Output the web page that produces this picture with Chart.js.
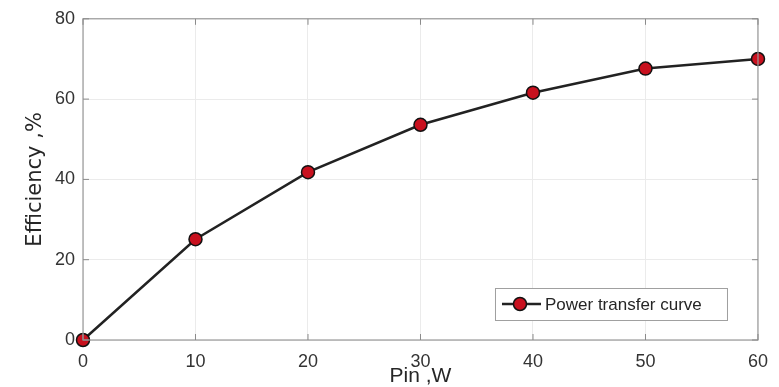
<!DOCTYPE html>
<html>
<head>
<meta charset="utf-8">
<script src="https://cdn.jsdelivr.net/npm/chart.js@4"></script>
<style>
html,body{margin:0;padding:0;background:#fff;}
#wrap{width:779px;height:387px;position:relative;}
</style>
</head>
<body>
<div id="wrap"><canvas id="c" width="779" height="387"></canvas></div>
<script>
const pinW = [0, 10, 20, 30, 40, 50, 60];
const efficiency = [0, 25.1, 41.8, 53.6, 61.6, 67.6, 70.0];
const seriesName = "Power transfer curve";
const xTitle = "Pin ,W";
const yTitle = "Efficiency ,%";

const boxPlugin = {
  id: 'boxPlugin',
  afterDraw(chart) {
    const {ctx, chartArea: a, scales} = chart;
    ctx.save();
    ctx.strokeStyle = '#9a9a9a';
    ctx.lineWidth = 1.2;
    ctx.strokeRect(a.left, a.top, a.right - a.left, a.bottom - a.top);
    // inward ticks
    ctx.strokeStyle = '#8a8a8a';
    ctx.lineWidth = 1;
    const tl = 6;
    scales.x.ticks.forEach(t => {
      const x = scales.x.getPixelForValue(t.value);
      ctx.beginPath();
      ctx.moveTo(x, a.bottom); ctx.lineTo(x, a.bottom - tl);
      ctx.moveTo(x, a.top); ctx.lineTo(x, a.top + tl);
      ctx.stroke();
    });
    scales.y.ticks.forEach(t => {
      const y = scales.y.getPixelForValue(t.value);
      ctx.beginPath();
      ctx.moveTo(a.left, y); ctx.lineTo(a.left + tl, y);
      ctx.moveTo(a.right, y); ctx.lineTo(a.right - tl, y);
      ctx.stroke();
    });
    // legend
    const bx = a.right - 263, by = a.bottom - 52, bw = 232, bh = 32;
    ctx.fillStyle = '#fff';
    ctx.fillRect(bx, by, bw, bh);
    ctx.strokeStyle = '#a0a0a0';
    ctx.lineWidth = 1;
    ctx.strokeRect(bx + 0.5, by + 0.5, bw, bh);
    const cy = by + bh / 2;
    ctx.strokeStyle = '#222';
    ctx.lineWidth = 2.5;
    ctx.beginPath();
    ctx.moveTo(bx + 7, cy); ctx.lineTo(bx + 46, cy);
    ctx.stroke();
    ctx.beginPath();
    ctx.arc(bx + 25, cy, 6.5, 0, Math.PI * 2);
    ctx.fillStyle = '#c8101e';
    ctx.fill();
    ctx.lineWidth = 1.5;
    ctx.strokeStyle = '#111';
    ctx.stroke();
    ctx.fillStyle = '#262626';
    ctx.font = '17px "Liberation Sans", Arial, sans-serif';
    ctx.textBaseline = 'middle';
    ctx.textAlign = 'left';
    ctx.fillText(seriesName, bx + 50, cy + 1);
    ctx.restore();
  }
};

new Chart(document.getElementById('c'), {
  type: 'line',
  data: {
    labels: pinW,
    datasets: [{
      label: seriesName,
      data: pinW.map((x, i) => ({x: x, y: efficiency[i]})),
      borderColor: '#222',
      borderWidth: 2.5,
      pointRadius: 6.5,
      pointBackgroundColor: '#c8101e',
      pointBorderColor: '#111',
      pointBorderWidth: 1.5,
      tension: 0,
      clip: false
    }]
  },
  options: {
    responsive: false,
    animation: false,
    events: [],
    layout: {padding: {left: 0, right: 21, top: 16, bottom: 0}},
    plugins: {legend: {display: false}, tooltip: {enabled: false}},
    scales: {
      x: {
        type: 'linear', min: 0, max: 60,
        afterFit(s) { s.height = 47; },
        ticks: {stepSize: 10, padding: 11, color: '#333', maxRotation: 0,
          font: {family: '"Liberation Sans", Arial, sans-serif', size: 18}},
        grid: {color: '#ebebeb', drawTicks: false},
        border: {display: false},
        title: {display: true, text: xTitle, color: '#262626', padding: {top: 0, bottom: 0},
          font: {family: '"Liberation Sans", Arial, sans-serif', size: 21, lineHeight: 1}}
      },
      y: {
        min: 0, max: 80,
        afterFit(s) { s.width = 83; },
        ticks: {stepSize: 20, padding: 8, color: '#333',
          font: {family: '"Liberation Sans", Arial, sans-serif', size: 18}},
        grid: {color: '#ebebeb', drawTicks: false},
        border: {display: false},
        title: {display: true, text: yTitle, color: '#262626', padding: {top: 25, bottom: 0},
          font: {family: '"DejaVu Sans", sans-serif', size: 21, lineHeight: 1}}
      }
    }
  },
  plugins: [boxPlugin]
});
</script>
</body>
</html>
